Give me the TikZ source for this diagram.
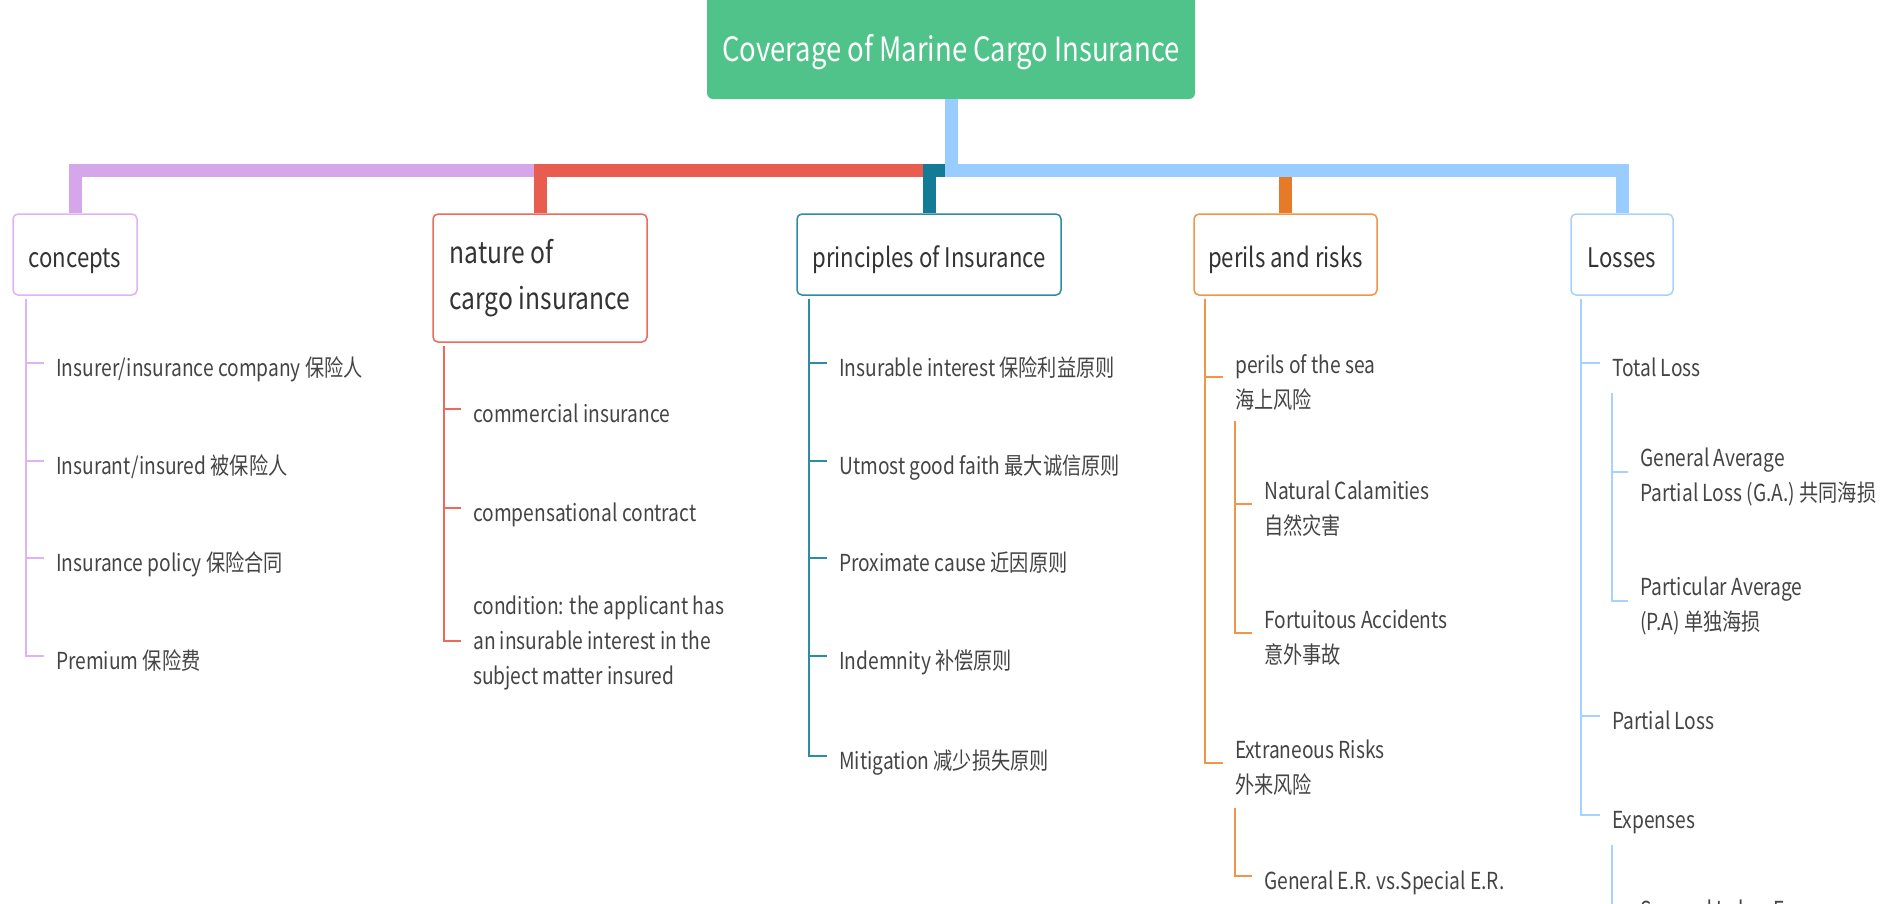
\documentclass[tikz,border=0pt]{standalone}
\usepackage{fontspec}
\setmainfont{Noto Sans CJK SC}[FakeStretch=0.82]
\usepackage{xcolor}

\definecolor{rootgreen}{HTML}{4FC38A}
\definecolor{purpbar}{HTML}{D5A6EA}
\definecolor{purpline}{HTML}{DDB3F5}
\definecolor{redbar}{HTML}{E85D4F}
\definecolor{redline}{HTML}{EA6A5C}
\definecolor{tealbar}{HTML}{147B96}
\definecolor{tealline}{HTML}{2E8BA4}
\definecolor{orangebar}{HTML}{E67A28}
\definecolor{orangeline}{HTML}{F0954A}
\definecolor{bluebar}{HTML}{99CCFF}
\definecolor{blueline}{HTML}{A6D2FF}
\definecolor{topicgray}{HTML}{333333}
\definecolor{leafgray}{HTML}{444444}

\begin{document}
\begin{tikzpicture}[x=1pt,y=-1pt,
  trunk/.style={line width=13pt},
  twig/.style={line width=2pt},
  topic/.style={draw, line width=1.5pt, rounded corners=5pt, fill=white, text=topicgray,
    font=\fontsize{27}{46}\selectfont, minimum height=81pt, text height=25pt, text depth=0pt},
  leaf/.style={anchor=west, inner sep=0pt, text=leafgray, font=\fontsize{23.4}{35}\selectfont,
    text height=27pt, text depth=0pt},
  leafm/.style={anchor=west, inner sep=0pt, text=leafgray, font=\fontsize{23.4}{35}\selectfont, align=left}
]
\useasboundingbox (0,0) rectangle (1888,903);

% Central topic
\node[fill=rootgreen, rounded corners=6pt, text=white, font=\fontsize{33.5}{40}\selectfont,
  minimum width=488pt, minimum height=104pt, text height=28pt, text depth=0pt]
  (root) at (951,47) {Coverage of Marine Cargo Insurance};

% Main branches
\node[topic, draw=purpline, minimum width=124pt] (concepts) at (75,254.5) {concepts};
\node[topic, draw=redline, minimum width=214pt, minimum height=128pt, align=left,
  font=\fontsize{30}{46}\selectfont, text height=, text depth=] (nature) at (540,278) {nature of\\cargo insurance};
\node[topic, draw=tealline, minimum width=264pt] (principles) at (929,254.5) {principles of Insurance};
\node[topic, draw=orangeline, minimum width=183pt] (perils) at (1285.5,254.5) {perils and risks};
\node[topic, draw=blueline, minimum width=102pt] (losses) at (1622,254.5) {Losses};

% Trunk connectors (later ones cover the shared part)
\draw[trunk, purpbar] (root.south) -- ++(0,71) -| (concepts.north);
\draw[trunk, redbar] (root.south) -- ++(0,71) -| (nature.north);
\draw[trunk, tealbar] (root.south) -- ++(0,71) -| (principles.north);
\draw[trunk, orangebar] (root.south) -- ++(0,71) -| (perils.north);
\draw[trunk, bluebar] (root.south) -- ++(0,71) -| (losses.north);

% concepts
\node[leaf] (c1) at (56,363) {Insurer/insurance company 保险人};
\node[leaf] (c2) at (56,461) {Insurant/insured 被保险人};
\node[leaf] (c3) at (56,558) {Insurance policy 保险合同};
\node[leaf] (c4) at (56,656) {Premium 保险费};
\coordinate (cspine) at ([xshift=14pt,yshift=-3pt]concepts.south west);
\foreach \n in {c1,c2,c3,c4} \draw[twig, purpline] (cspine) |- ([xshift=-12pt]\n.west);

% nature of cargo insurance
\node[leaf] (n1) at (473,409) {commercial insurance};
\node[leaf] (n2) at (473,508) {compensational contract};
\node[leafm] (n3) at (473,643) {condition: the applicant has\\an insurable interest in the\\subject matter insured};
\coordinate (nspine) at ([xshift=12pt,yshift=-3pt]nature.south west);
\foreach \n in {n1,n2} \draw[twig, redline] (nspine) |- ([xshift=-12pt]\n.west);
\draw[twig, redline] (nspine) |- ([xshift=-12pt,yshift=2pt]n3.west);

% principles of Insurance
\node[leaf] (p1) at (839,363) {Insurable interest 保险利益原则};
\node[leaf] (p2) at (839,461) {Utmost good faith 最大诚信原则};
\node[leaf] (p3) at (839,558) {Proximate cause 近因原则};
\node[leaf] (p4) at (839,656) {Indemnity 补偿原则};
\node[leaf] (p5) at (839,756) {Mitigation 减少损失原则};
\coordinate (pspine) at ([xshift=13pt,yshift=-3pt]principles.south west);
\foreach \n in {p1,p2,p3,p4,p5} \draw[twig, tealline] (pspine) |- ([xshift=-12pt]\n.west);

% perils and risks
\node[leafm] (r1) at (1235,382) {perils of the sea\\海上风险};
\node[leafm] (r2) at (1235,768) {Extraneous Risks\\外来风险};
\coordinate (rspine) at ([xshift=12pt,yshift=-3pt]perils.south west);
\foreach \n in {r1,r2} \draw[twig, orangeline] (rspine) |- ([xshift=-12pt,yshift=5pt]\n.west);

\node[leafm] (r11) at (1264,509) {Natural Calamities\\自然灾害};
\node[leafm] (r12) at (1264,638) {Fortuitous Accidents\\意外事故};
\coordinate (r1spine) at ([yshift=-11pt]r1.south west);
\foreach \n in {r11,r12} \draw[twig, orangeline] (r1spine) |- ([xshift=-12pt,yshift=5pt]\n.west);

\node[leaf] (r21) at (1264,876) {General E.R. vs.Special E.R.};
\coordinate (r2spine) at ([yshift=-12pt]r2.south west);
\draw[twig, orangeline] (r2spine) |- ([xshift=-12pt]r21.west);

% Losses
\node[leaf] (l1) at (1612,363) {Total Loss};
\node[leaf] (l2) at (1612,716) {Partial Loss};
\node[leaf] (l3) at (1612,815) {Expenses};
\coordinate (lspine) at ([xshift=11pt,yshift=-3pt]losses.south west);
\foreach \n in {l1,l2,l3} \draw[twig, blueline] (lspine) |- ([xshift=-12pt]\n.west);

\node[leafm] (l11) at (1640,477) {General Average\\Partial Loss (G.A.) 共同海损};
\node[leafm] (l12) at (1640,606) {Particular Average\\(P.A) 单独海损};
\coordinate (l1spine) at ([yshift=-16pt]l1.south west);
\foreach \n in {l11,l12} \draw[twig, blueline] (l1spine) |- ([xshift=-12pt,yshift=5pt]\n.west);

\node[leaf] (l31) at (1640,905) {Sue and Labor Expenses};
\coordinate (l3spine) at ([yshift=-16pt]l3.south west);
\draw[twig, blueline] (l3spine) |- ([xshift=-12pt]l31.west);

\end{tikzpicture}
\end{document}
